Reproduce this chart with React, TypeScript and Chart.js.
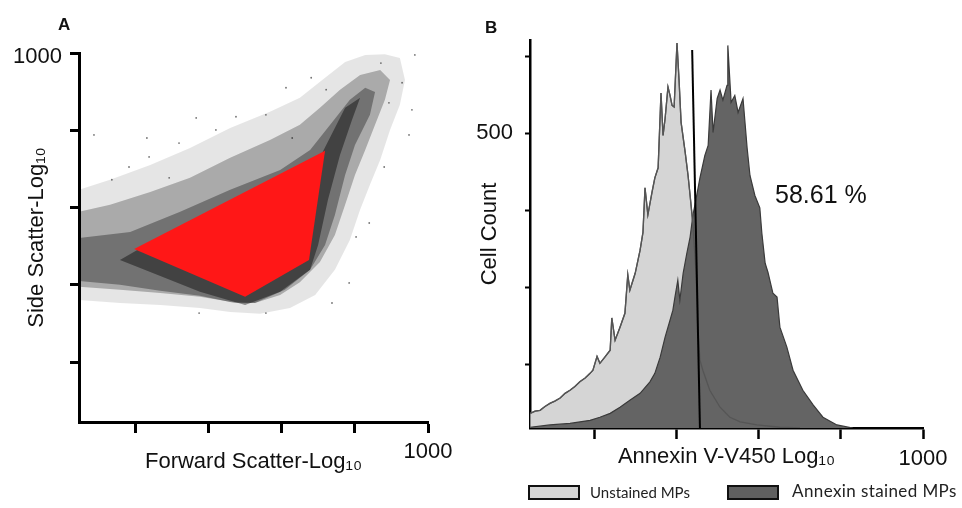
import React, { useEffect, useRef } from 'react';
import { Chart, registerables } from 'chart.js';

Chart.register(...registerables);

const FONT = '"Liberation Sans", Arial, sans-serif';

// ---------- Panel A : scatter (Forward vs Side scatter) ----------
const A_X_MIN = 44;
const A_Y_MIN = 45;
const A_MAX = 1000;
const A_X_TICKS = [200, 400, 600, 800, 1000];
const A_Y_TICKS = [200, 400, 600, 800, 1000];

// density outlines of the event cloud, [forward, side]
const CLOUD_SPARSE = [[44,646],[129,672],[239,710],[348,754],[458,806],[567,848],[649,884],[718,936],[773,977],[828,995],[882,997],[923,987],[937,930],[923,866],[896,801],[869,723],[841,659],[814,594],[786,516],[745,439],[691,374],[622,340],[540,325],[458,330],[375,340],[266,348],[156,353],[44,361]];
const CLOUD_MEDIUM = [[44,589],[129,607],[239,640],[348,677],[458,729],[567,775],[649,814],[704,858],[759,905],[814,943],[869,956],[896,930],[882,879],[855,814],[828,749],[800,684],[773,607],[745,529],[704,459],[649,407],[595,374],[526,353],[458,356],[375,369],[266,379],[156,387],[44,395]];
const CLOUD_DENSE = [[44,521],[184,537],[321,589],[458,646],[595,697],[677,749],[732,814],[786,879],[828,910],[855,899],[841,840],[800,762],[773,684],[745,581],[718,503],[677,439],[608,387],[526,353],[471,353],[375,372],[266,385],[156,400],[44,410]];
const CLOUD_CORE = [[200,488],[710,741],[773,858],[814,884],[792,827],[759,736],[726,620],[699,503],[677,439],[595,382],[499,348],[375,382],[239,433],[156,464]];
const GATE = [[195,493],[718,747],[674,464],[499,369]];
const OUTLIERS = [[871,974],[929,923],[948,788],[880,705],[803,524],[839,560],[680,936],[611,910],[556,840],[474,835],[419,801],[365,832],[318,767],[230,780],[85,788],[236,731],[181,705],[134,672],[291,677],[784,405],[737,353],[556,327],[373,327],[628,780],[721,905],[893,871],[956,853],[964,995]];

// ---------- Panel B : histogram (Annexin V-V450) ----------
const B_X_MIN = 41.5;
const B_X_MAX = 1000;
const B_Y_MIN = 117;
const B_Y_MAX = 621;
const B_X_TICKS = [200, 400, 600, 800, 1000];
const B_Y_TICKS = [200, 300, 400, 500, 600];
const UNSTAINED = [[42,136],[54,139],[66,140],[78,145],[90,149],[102,152],[115,156],[127,162],[139,166],[151,171],[163,177],[176,182],[188,188],[195,192],[205,210],[212,201],[224,209],[237,218],[241,260],[249,231],[261,248],[273,266],[280,316],[285,296],[298,318],[310,348],[317,371],[322,429],[329,394],[339,423],[346,442],[354,455],[361,552],[366,497],[371,519],[378,560],[383,549],[388,536],[393,534],[400,617],[405,569],[410,514],[420,475],[427,445],[432,419],[439,381],[446,322],[451,244],[456,205],[463,192],[480,166],[505,144],[529,131],[554,125],[595,121],[651,118],[700,117]];
const ANNEXIN = [[42,118],[90,121],[139,123],[188,127],[212,131],[237,136],[261,144],[285,153],[310,162],[334,177],[346,188],[359,209],[371,235],[383,257],[390,270],[395,287],[402,309],[407,283],[415,318],[424,344],[432,365],[439,394],[446,413],[456,442],[468,471],[476,484],[483,556],[488,501],[498,545],[505,556],[512,543],[522,562],[524,614],[532,540],[541,549],[549,527],[561,545],[571,481],[578,445],[590,419],[602,403],[607,370],[615,331],[622,319],[634,292],[644,287],[651,248],[668,222],[683,192],[707,166],[732,147],[756,131],[790,121],[829,117]];
const THRESHOLD = [[437,608],[456,117]];
const PCT_TEXT = '58.61 %';
const PCT_X = 639;
const PCT_Y = 418;

const pts = (arr: number[][]) => arr.map(([x, y]) => ({ x, y }));
const poly = (arr: number[][]) => pts([...arr, arr[0]]);

const polyDataset = (arr: number[][], color: string) => ({
  data: poly(arr),
  fill: 'shape',
  backgroundColor: color,
  borderColor: 'rgba(0,0,0,0)',
  borderWidth: 0,
  pointRadius: 0,
  tension: 0,
});

const tickFont = { family: FONT, size: 22 };
const titleFont = { family: FONT, size: 22 };

function makeScale(opts: any) {
  const { min, max, ticks, label, tickLen, pad, axisW, fitSize, horizontal, titlePad, labelOffset, tickW } = opts;
  return {
    type: 'linear',
    min,
    max,
    afterBuildTicks: (s: any) => { s.ticks = ticks.map((v: number) => ({ value: v })); },
    afterFit: (s: any) => { if (horizontal) s.height = fitSize; else s.width = fitSize; },
    ticks: {
      autoSkip: false,
      maxRotation: 0,
      padding: pad,
      labelOffset: labelOffset || 0,
      color: '#111',
      font: tickFont,
      callback: opts.labelFn,
    },
    grid: {
      display: true,
      drawOnChartArea: false,
      drawTicks: true,
      tickLength: tickLen,
      tickWidth: tickW,
      tickColor: '#000',
    },
    border: { display: true, color: '#000', width: axisW },
    title: {
      display: true,
      text: label,
      color: '#111',
      font: titleFont,
      padding: titlePad,
    },
  };
}

const pctPlugin = {
  id: 'pctLabel',
  afterDatasetsDraw(chart: any) {
    const { ctx, scales } = chart;
    ctx.save();
    ctx.font = `25px ${FONT}`;
    ctx.fillStyle = '#111';
    ctx.textAlign = 'left';
    ctx.textBaseline = 'middle';
    ctx.fillText(PCT_TEXT, scales.x.getPixelForValue(PCT_X), scales.y.getPixelForValue(PCT_Y));
    ctx.restore();
  },
};

export default function App() {
  const refA = useRef<HTMLCanvasElement>(null);
  const refB = useRef<HTMLCanvasElement>(null);

  useEffect(() => {
    const chartA = new Chart(refA.current as HTMLCanvasElement, {
      type: 'line',
      data: {
        datasets: [
          polyDataset(GATE, '#ff1717'),
          {
            data: pts(OUTLIERS),
            showLine: false,
            pointRadius: 0.9,
            pointBorderWidth: 0,
            pointBackgroundColor: 'rgba(0,0,0,0.55)',
            borderColor: 'rgba(0,0,0,0)',
          },
          polyDataset(CLOUD_CORE, 'rgba(0,0,0,0.42)'),
          polyDataset(CLOUD_DENSE, 'rgba(0,0,0,0.33)'),
          polyDataset(CLOUD_MEDIUM, 'rgba(0,0,0,0.26)'),
          polyDataset(CLOUD_SPARSE, 'rgba(0,0,0,0.10)'),
        ] as any,
      },
      options: {
        responsive: false,
        animation: false,
        events: [],
        layout: { padding: { left: 0, top: 53, right: 52, bottom: 0 } },
        plugins: { legend: { display: false }, tooltip: { enabled: false } },
        scales: {
          x: makeScale({
            min: A_X_MIN, max: A_MAX, ticks: A_X_TICKS, label: 'Forward Scatter-Log₁₀',
            tickLen: 11, pad: 6, axisW: 3, tickW: 3, fitSize: 86, horizontal: true,
            titlePad: { top: 0, bottom: 33 },
            labelFn: (v: number) => (v === 1000 ? '1000' : ''),
          }),
          y: makeScale({
            min: A_Y_MIN, max: A_MAX, ticks: A_Y_TICKS, label: 'Side Scatter-Log₁₀',
            tickLen: 9, pad: 8, axisW: 3, tickW: 3, fitSize: 79, horizontal: false,
            titlePad: { top: 24, bottom: 0 }, labelOffset: 4,
            labelFn: (v: number) => (v === 1000 ? '1000' : ''),
          }),
        } as any,
      },
    } as any);

    const chartB = new Chart(refB.current as HTMLCanvasElement, {
      type: 'line',
      data: {
        datasets: [
          {
            data: pts(THRESHOLD),
            borderColor: '#000',
            borderWidth: 2,
            pointRadius: 0,
            fill: false,
          },
          {
            data: pts(UNSTAINED),
            borderColor: '#555555',
            borderWidth: 1.3,
            pointRadius: 0,
            fill: false,
          },
          {
            label: 'Annexin stained MPs',
            data: pts(ANNEXIN),
            borderColor: '#3a3a3a',
            borderWidth: 1.2,
            backgroundColor: '#646464',
            pointRadius: 0,
            fill: 'start',
          },
          {
            label: 'Unstained MPs',
            data: pts(UNSTAINED),
            borderColor: '#555555',
            borderWidth: 1.3,
            backgroundColor: '#d5d5d5',
            pointRadius: 0,
            fill: 'start',
          },
        ] as any,
      },
      options: {
        responsive: false,
        animation: false,
        events: [],
        layout: { padding: { left: 0, top: 40, right: 39, bottom: 0 } },
        plugins: { legend: { display: false }, tooltip: { enabled: false } },
        scales: {
          x: makeScale({
            min: B_X_MIN, max: B_X_MAX, ticks: B_X_TICKS, label: 'Annexin V-V450 Log₁₀',
            tickLen: 11, pad: 7, axisW: 2.5, tickW: 2.5, fitSize: 80, horizontal: true,
            titlePad: { top: 0, bottom: 38 },
            labelFn: (v: number) => (v === 1000 ? '1000' : ''),
          }),
          y: makeScale({
            min: B_Y_MIN, max: B_Y_MAX, ticks: B_Y_TICKS, label: 'Cell Count',
            tickLen: 5, pad: 12, axisW: 2.5, tickW: 2, fitSize: 65, horizontal: false,
            titlePad: { top: 12, bottom: 0 },
            labelFn: (v: number) => (v === 500 ? '500' : ''),
          }),
        } as any,
      },
      plugins: [pctPlugin],
    } as any);

    return () => {
      chartA.destroy();
      chartB.destroy();
    };
  }, []);

  const legendText: React.CSSProperties = {
    position: 'absolute',
    top: 482,
    fontFamily: 'Lato, "Open Sans", sans-serif',
    lineHeight: '20px',
    color: '#222',
    whiteSpace: 'nowrap',
  };
  const swatch: React.CSSProperties = {
    position: 'absolute',
    top: 485,
    width: 52,
    height: 15,
    boxSizing: 'border-box',
    border: '2px solid #111',
  };
  const panelLabel: React.CSSProperties = {
    position: 'absolute',
    fontFamily: FONT,
    fontWeight: 'bold',
    fontSize: 17,
    lineHeight: '17px',
    color: '#111',
  };

  return (
    <div style={{ position: 'absolute', left: 0, top: 0, width: 962, height: 508, background: '#fff', overflow: 'hidden' }}>
      <canvas ref={refA} width={480} height={508} style={{ position: 'absolute', left: 0, top: 0 }} />
      <canvas ref={refB} width={497} height={508} style={{ position: 'absolute', left: 465, top: 0 }} />
      <div style={{ ...panelLabel, left: 58, top: 16 }}>A</div>
      <div style={{ ...panelLabel, left: 485, top: 19 }}>B</div>
      <div style={{ ...swatch, left: 528, background: '#d5d5d5' }} />
      <div style={{ ...legendText, left: 590, fontSize: 15 }}>Unstained MPs</div>
      <div style={{ ...swatch, left: 727, background: '#606060' }} />
      <div style={{ ...legendText, left: 792, fontSize: 17, letterSpacing: '0.4px', top: 481 }}>Annexin stained MPs</div>
    </div>
  );
}
